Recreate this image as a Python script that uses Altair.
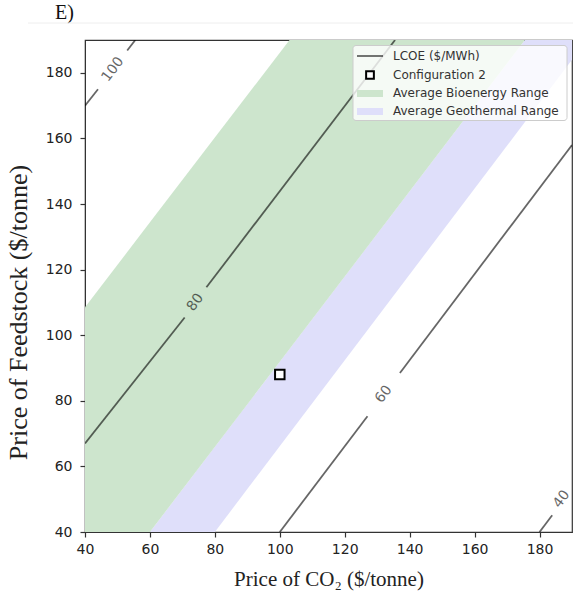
import altair as alt
import pandas as pd

# ---------------- data ----------------
tick_values = [40, 60, 80, 100, 120, 140, 160, 180]

# contour segments (LCOE $/MWh), split where the inline labels sit
seg_level = ["100", "100", "80", "80", "60", "60", "40"]
seg_x0 = [40.0, 53.0, 40.0, 77.4, 100.0, 137.0, 180.0]
seg_y0 = [170.0, 186.8, 67.0, 114.6, 40.0, 88.5, 40.0]
seg_x1 = [44.0, 55.5, 70.7, 135.5, 127.0, 190.0, 183.9]
seg_y1 = [175.0, 190.0, 105.4, 190.0, 75.3, 158.0, 45.1]

# contour labels
lab_text = ["100", "80", "60", "40"]
lab_x = [48.6, 74.0, 132.0, 186.8]
lab_y = [181.0, 110.0, 82.0, 50.0]

# bioenergy band (CO2 price, feedstock low, feedstock high)
bio_x = [40, 60, 103, 175.5]
bio_lo = [40, 40, 95.8, 190]
bio_hi = [108.5, 134.4, 190, 190]

# geothermal band
geo_x = [60, 80, 175.5, 190]
geo_lo = [40, 40, 165.0, 184]
geo_hi = [40, 66.0, 190, 190]

# configuration point
cfg_x = [100]
cfg_y = [88]

legend_labels = ["LCOE ($/MWh)", "Configuration 2",
                 "Average Bioenergy Range", "Average Geothermal Range"]

# ---------------- tables ----------------
seg_rows = []
for i, lvl in enumerate(seg_level):
    seg_rows.append({"seg": i, "level": lvl, "co2": seg_x0[i], "feed": seg_y0[i], "o": 0})
    seg_rows.append({"seg": i, "level": lvl, "co2": seg_x1[i], "feed": seg_y1[i], "o": 1})
seg_df = pd.DataFrame(seg_rows)
lab_df = pd.DataFrame({"t": lab_text, "co2": lab_x, "feed": lab_y})
bio_df = pd.DataFrame({"co2": bio_x, "lo": bio_lo, "hi": bio_hi})
geo_df = pd.DataFrame({"co2": geo_x, "lo": geo_lo, "hi": geo_hi})
cfg_df = pd.DataFrame({"co2": cfg_x, "feed": cfg_y})
one = pd.DataFrame({"a": [0]})

W, H = 487, 492
xs = alt.Scale(domain=[40, 190], nice=False, zero=False)
ys = alt.Scale(domain=[40, 190], nice=False, zero=False)

X = alt.X("co2:Q", scale=xs,
          axis=alt.Axis(values=tick_values, title="Price of CO₂ ($/tonne)", grid=False,
                        labelFlush=False, labelOverlap=False, labelPadding=5,
                        titlePadding=12, titleFontSize=21))
Y = alt.Y("lo:Q", scale=ys,
          axis=alt.Axis(values=tick_values, title="Price of Feedstock ($/tonne)", grid=False,
                        labelFlush=False, labelOverlap=False, labelPadding=8,
                        titlePadding=14, titleFontSize=26, titleY=272))

green_fill = "#cde5cd"
purple_fill = "#dfdffa"

bio = alt.Chart(bio_df).mark_area(color=green_fill, opacity=1, clip=True).encode(
    x=X, y=Y, y2="hi:Q")
geo = alt.Chart(geo_df).mark_area(color=purple_fill, opacity=1, clip=True).encode(
    x=alt.X("co2:Q", scale=xs), y=alt.Y("lo:Q", scale=ys), y2="hi:Q")

lines = alt.Chart(seg_df).mark_line(color="black", opacity=0.6, strokeWidth=1.8, clip=True).encode(
    x=alt.X("co2:Q", scale=xs), y=alt.Y("feed:Q", scale=ys),
    detail="seg:N", order="o:Q")

labels = alt.Chart(lab_df).mark_text(color="black", opacity=0.6, fontSize=14,
                                     font="DejaVu Sans", angle=307,
                                     align="center", baseline="middle").encode(
    x=alt.X("co2:Q", scale=xs), y=alt.Y("feed:Q", scale=ys), text="t:N")

cfg = alt.Chart(cfg_df).mark_point(shape="square", filled=True, fill="white",
                                   stroke="black", strokeWidth=2, size=90, opacity=1).encode(
    x=alt.X("co2:Q", scale=xs), y=alt.Y("feed:Q", scale=ys))

# ---------------- legend (manual) ----------------
lg_box = alt.Chart(one).mark_rect(fill="white", fillOpacity=0.8, stroke="#cccccc",
                                  strokeWidth=1, cornerRadius=3).encode(
    x=alt.value(268), x2=alt.value(482), y=alt.value(5.5), y2=alt.value(80.5))
lg_line = alt.Chart(one).mark_rule(color="black", opacity=0.6, strokeWidth=1.8).encode(
    x=alt.value(272), x2=alt.value(298), y=alt.value(16), y2=alt.value(16))
lg_sq = alt.Chart(one).mark_point(shape="square", filled=True, fill="white",
                                  stroke="black", strokeWidth=2, size=60, opacity=1).encode(
    x=alt.value(285), y=alt.value(35))
lg_g = alt.Chart(one).mark_rect(fill=green_fill).encode(
    x=alt.value(272), x2=alt.value(298), y=alt.value(50), y2=alt.value(57))
lg_p = alt.Chart(one).mark_rect(fill=purple_fill).encode(
    x=alt.value(272), x2=alt.value(298), y=alt.value(68), y2=alt.value(75))
lg_texts = []
for lab, yy in zip(legend_labels, [16, 35, 53, 71]):
    lg_texts.append(alt.Chart(one).mark_text(align="left", baseline="middle", fontSize=12,
                                             font="DejaVu Sans", color="#333").encode(
        x=alt.value(308), y=alt.value(yy), text=alt.value(lab)))

panel = alt.Chart(one).mark_text(align="left", baseline="alphabetic", fontSize=20,
                                 font="Liberation Serif", color="#111").encode(
    x=alt.value(-30), y=alt.value(-21), text=alt.value("E)"))
topline = alt.Chart(one).mark_rule(color="#eeeeee", strokeWidth=1).encode(
    x=alt.value(-57), x2=alt.value(488), y=alt.value(-17), y2=alt.value(-17))

chart = alt.layer(geo, bio, lines, labels, cfg, lg_box, lg_line, lg_sq, lg_g, lg_p,
                  *lg_texts, panel, topline).properties(
    width=W, height=H,
    autosize=alt.AutoSizeParams(type="none"),
    padding={"left": 85, "top": 40, "right": 1, "bottom": 75},
).configure_view(stroke="#333333", strokeWidth=1.2).configure_axis(
    domainColor="#333333", tickColor="#333333", tickSize=5, tickWidth=1.2,
    labelFont="DejaVu Sans", labelFontSize=14, labelColor="#222",
    titleFont="Liberation Serif", titleFontWeight="normal",
    titleColor="#222",
)

chart.save("out.html", embed_options={"renderer": "svg", "actions": False})
